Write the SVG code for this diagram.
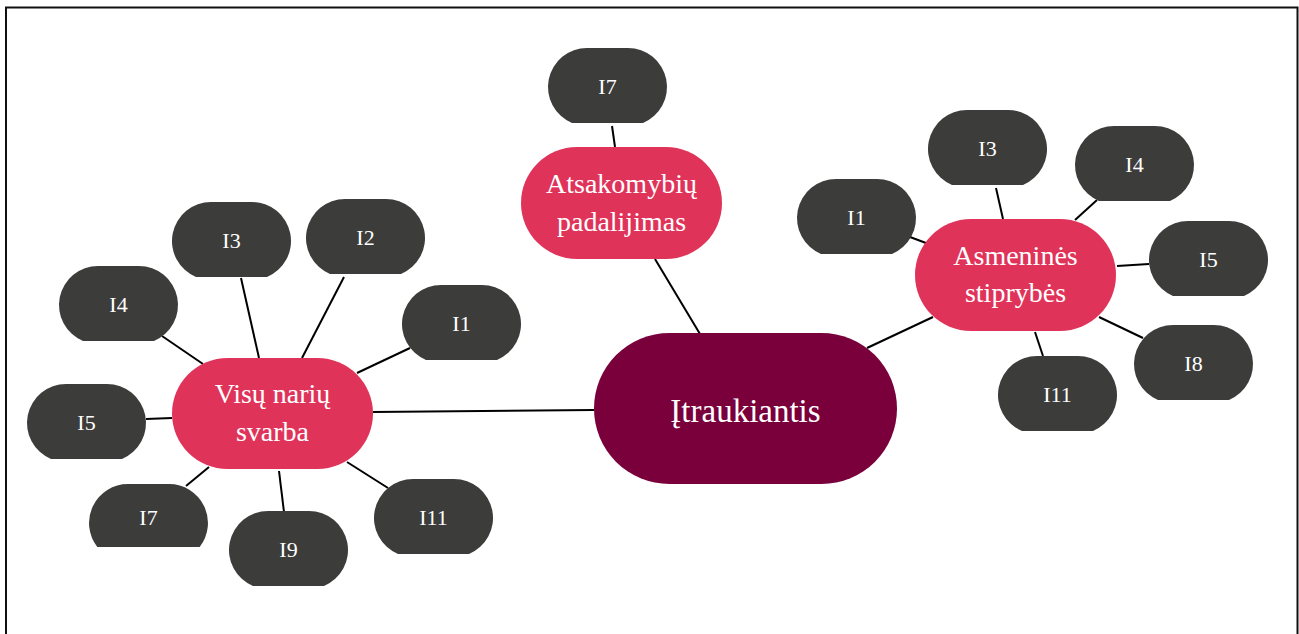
<svg xmlns="http://www.w3.org/2000/svg" xmlns:xlink="http://www.w3.org/1999/xlink" width="1299" height="634" viewBox="0 0 1299 634">
<style>
.dark{fill:#3c3c3b}
.pink{fill:#e0335a}
.core{fill:#79003a}
.lbl{font-family:"Liberation Serif","Times New Roman",serif;fill:#ffffff;text-anchor:middle}
.s{font-size:22px}
.m{font-size:28px}
.l{font-size:33px}
#edges line{stroke:#000;stroke-width:2}
</style>
<defs>
<path id="pill" d="M39,0 H80 A39 39 0 0 1 95 75 H24 A39 39 0 0 1 39 0 Z"/>
<path id="pillS" d="M39,0 H80 A39 39 0 0 1 110.7 63 H8.3 A39 39 0 0 1 39 0 Z"/>
</defs>
<rect width="1299" height="634" fill="#ffffff"/>
<path d="M6,640 V7.5 H1297.5 V640" fill="none" stroke="#111" stroke-width="2"/>
<g id="edges">
<line x1="373" y1="412" x2="594" y2="410"/>
<line x1="241" y1="278" x2="259" y2="358"/>
<line x1="344" y1="277" x2="302" y2="358"/>
<line x1="162" y1="336" x2="203" y2="364"/>
<line x1="410" y1="348" x2="357" y2="373"/>
<line x1="146" y1="419" x2="172" y2="418"/>
<line x1="186" y1="486" x2="209" y2="467"/>
<line x1="279" y1="471" x2="284" y2="512"/>
<line x1="347" y1="462" x2="388" y2="488"/>
<line x1="655" y1="259" x2="700" y2="334"/>
<line x1="612" y1="126" x2="615" y2="147"/>
<line x1="867" y1="348" x2="933" y2="317"/>
<line x1="910" y1="237" x2="926" y2="243"/>
<line x1="996" y1="188" x2="1003" y2="219"/>
<line x1="1097" y1="200" x2="1075" y2="220"/>
<line x1="1149" y1="264" x2="1117" y2="266"/>
<line x1="1143" y1="338" x2="1099" y2="317"/>
<line x1="1043" y1="356" x2="1035" y2="332"/>
</g>
<g id="center"><rect class="core" x="594" y="333" width="303" height="151" rx="75.5"/><text class="lbl l" x="745.5" y="422">Įtraukiantis</text></g>
<g id="visu"><rect class="pink" x="172" y="358" width="201" height="111" rx="55.5"/><text class="lbl m" x="272.5" y="403">Visų narių</text><text class="lbl m" x="272.5" y="441">svarba</text></g>
<g id="atsak"><rect class="pink" x="521" y="147" width="201" height="112" rx="56"/><text class="lbl m" x="621.5" y="193">Atsakomybių</text><text class="lbl m" x="621.5" y="231">padalijimas</text></g>
<g id="asmen"><rect class="pink" x="915" y="219" width="201" height="112" rx="56"/><text class="lbl m" x="1015.5" y="265">Asmeninės</text><text class="lbl m" x="1015.5" y="302">stiprybės</text></g>
<g id="L-I3"><use xlink:href="#pill" class="dark" x="172" y="202"/><text class="lbl s" x="231.5" y="248">I3</text></g>
<g id="L-I2"><use xlink:href="#pill" class="dark" x="306" y="199"/><text class="lbl s" x="365.5" y="245">I2</text></g>
<g id="L-I4"><use xlink:href="#pill" class="dark" x="59" y="266"/><text class="lbl s" x="118.5" y="312">I4</text></g>
<g id="L-I1"><use xlink:href="#pill" class="dark" x="402" y="285"/><text class="lbl s" x="461.5" y="331">I1</text></g>
<g id="L-I5"><use xlink:href="#pill" class="dark" x="27" y="384"/><text class="lbl s" x="86.5" y="430">I5</text></g>
<g id="L-I7"><use xlink:href="#pillS" class="dark" x="89" y="484"/><text class="lbl s" x="148.5" y="525">I7</text></g>
<g id="L-I9"><use xlink:href="#pill" class="dark" x="229" y="511"/><text class="lbl s" x="288.5" y="557">I9</text></g>
<g id="L-I11"><use xlink:href="#pill" class="dark" x="374" y="479"/><text class="lbl s" x="433.5" y="525">I11</text></g>
<g id="C-I7"><use xlink:href="#pill" class="dark" x="548" y="48"/><text class="lbl s" x="607.5" y="94">I7</text></g>
<g id="R-I1"><use xlink:href="#pill" class="dark" x="797" y="179"/><text class="lbl s" x="856.5" y="225">I1</text></g>
<g id="R-I3"><use xlink:href="#pill" class="dark" x="928" y="110"/><text class="lbl s" x="987.5" y="156">I3</text></g>
<g id="R-I4"><use xlink:href="#pill" class="dark" x="1075" y="126"/><text class="lbl s" x="1134.5" y="172">I4</text></g>
<g id="R-I5"><use xlink:href="#pill" class="dark" x="1149" y="221"/><text class="lbl s" x="1208.5" y="267">I5</text></g>
<g id="R-I8"><use xlink:href="#pill" class="dark" x="1134" y="325"/><text class="lbl s" x="1193.5" y="371">I8</text></g>
<g id="R-I11"><use xlink:href="#pill" class="dark" x="998" y="356"/><text class="lbl s" x="1057.5" y="402">I11</text></g>
</svg>
